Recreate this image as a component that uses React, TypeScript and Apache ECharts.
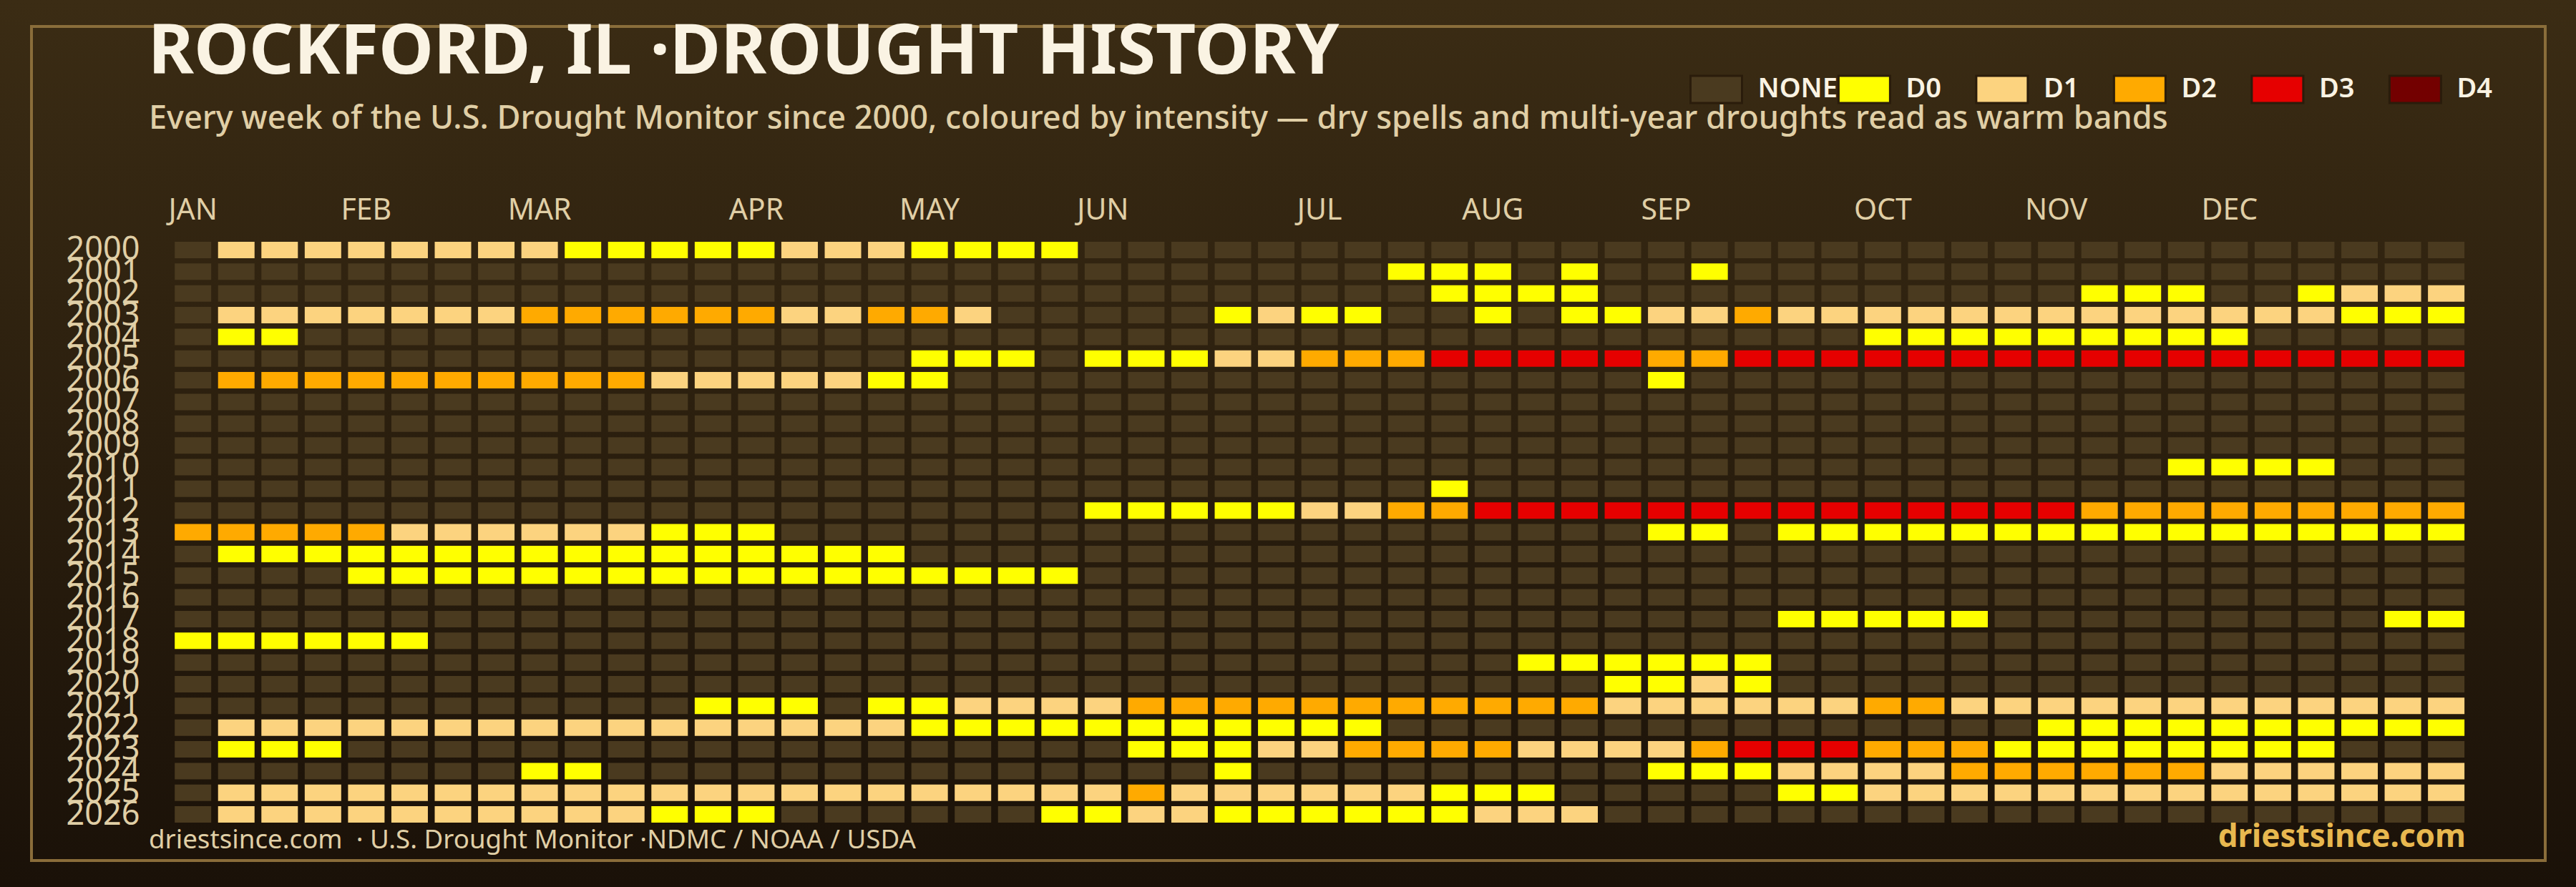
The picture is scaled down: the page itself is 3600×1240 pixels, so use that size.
import { useEffect, useRef } from 'react';
import * as echarts from 'echarts';

const TITLE = 'ROCKFORD, IL ·DROUGHT HISTORY';
const SUBTITLE =
  'Every week of the U.S. Drought Monitor since 2000, coloured by intensity — dry spells and multi-year droughts read as warm bands';
const SOURCE = 'driestsince.com  · U.S. Drought Monitor ·NDMC / NOAA / USDA';
const BRAND = 'driestsince.com';

const FONT = '"Noto Sans", sans-serif';

const months = ['JAN', 'FEB', 'MAR', 'APR', 'MAY', 'JUN', 'JUL', 'AUG', 'SEP', 'OCT', 'NOV', 'DEC'];
const monthStartWeeks = [0, 4, 8, 13, 17, 21, 26, 30, 34, 39, 43, 47];
const weeks = Array.from({ length: 53 }, (_, i) => i);

const levels = ['NONE', 'D0', 'D1', 'D2', 'D3', 'D4'];
const levelColors = ['#4a3a1f', '#ffff00', '#fcd37f', '#ffaa00', '#e60000', '#730000'];

const years = [
  '2000', '2001', '2002', '2003', '2004', '2005', '2006', '2007', '2008',
  '2009', '2010', '2011', '2012', '2013', '2014', '2015', '2016', '2017',
  '2018', '2019', '2020', '2021', '2022', '2023', '2024', '2025', '2026',
];

// one line per year, 53 weeks in groups of ten: "." no drought, digit = D level
const weekLevels = [
  '.111111110 0000111000 0......... .......... .......... ...',
  '.......... .......... ........00 0.0..0.... .......... ...',
  '.......... .......... .........0 000....... ....000..0 111',
  '.111111122 222211221. ....0100.. 0.00112111 1111111111 000',
  '.00....... .......... .......... .........0 00000000.. ...',
  '.......... .......000 .000112223 3333223333 3333333333 333',
  '.222222222 21111100.. .......... ....0..... .......... ...',
  '.......... .......... .......... .......... .......... ...',
  '.......... .......... .......... .......... .......... ...',
  '.......... .......... .......... .......... .......... ...',
  '.......... .......... .......... .......... ......0000 ...',
  '.......... .......... .........0 .......... .......... ...',
  '.......... .......... .000001122 3333333333 3333222222 222',
  '2222211111 1000...... .......... ....00.000 0000000000 000',
  '.000000000 0000000... .......... .......... .......... ...',
  '....000000 0000000000 0......... .......... .......... ...',
  '.......... .......... .......... .......... .......... ...',
  '.......... .......... .......... .......000 00........ .00',
  '000000.... .......... .......... .......... .......... ...',
  '.......... .......... .......... .000000... .......... ...',
  '.......... .......... .......... ...0010... .......... ...',
  '.......... ..000.0011 1122222222 2221111112 2111111111 111',
  '.111111111 1111111000 00000000.. .......... ...0000000 000',
  '.000...... .......... ..00011222 2111123332 2200000000 ...',
  '........00 .......... ....0..... ....000111 1222222111 111',
  '.111111111 1111111111 1121111110 00.....001 1111111111 111',
  '.111111111 1000...... 0011000000 111....... .......... ...',
];

function cellsForLevel(level: number) {
  const key = level === 0 ? '.' : String(level - 1);
  const cells: number[][] = [];
  weekLevels.forEach((line, row) => {
    line.replace(/ /g, '').split('').forEach((ch, week) => {
      if (ch === key) cells.push([week, row]);
    });
  });
  return cells;
}

export default function App() {
  const ref = useRef<HTMLDivElement>(null);

  useEffect(() => {
    if (!ref.current) return;
    const chart = echarts.init(ref.current, undefined, { renderer: 'svg' });

    const legendText = { fontFamily: FONT, fontSize: 38, fontWeight: 600, color: '#faf3e3' };

    chart.setOption({
      animation: false,
      backgroundColor: new echarts.graphic.LinearGradient(0, 0, 0, 1, [
        { offset: 0, color: '#3b2c14' },
        { offset: 1, color: '#1a1108' },
      ]),
      title: [
        { text: TITLE, left: 202, top: 11, textStyle: { fontFamily: FONT, fontSize: 97.5, fontWeight: 700, color: '#faf3e3' } },
        { text: SUBTITLE, left: 203, top: 135, textStyle: { fontFamily: FONT, fontSize: 45.1, fontWeight: 500, color: '#e0cfa6' } },
        { text: SOURCE, left: 203, top: 1148, textStyle: { fontFamily: FONT, fontSize: 36.7, fontWeight: 400, color: '#e0cfa6' } },
        { text: BRAND, right: 149, top: 1140, textStyle: { fontFamily: FONT, fontSize: 44, fontWeight: 700, color: '#e8b84f' } },
      ],
      graphic: [
        {
          type: 'rect',
          z: -1,
          shape: { x: 44, y: 37, width: 3513, height: 1166 },
          style: { fill: 'none', stroke: '#8a6d3a', lineWidth: 4 },
        },
      ],
      legend: {
        left: 2361,
        top: 102,
        padding: 0,
        itemGap: 0,
        itemWidth: 72,
        itemHeight: 38,
        icon: 'rect',
        selectedMode: false,
        itemStyle: { borderColor: '#2a1c0b', borderWidth: 3 },
        data: levels,
        formatter: (name: string) => (name === 'NONE' ? `{none|${name}}` : `{d|${name}}`),
        textStyle: {
          ...legendText,
          rich: {
            none: { ...legendText, padding: [0, 0, 8, 17] },
            // the see-through background makes the legend count the full slot width
            d: { ...legendText, width: 52, padding: [0, 45, 8, 17], backgroundColor: 'rgba(0,0,0,0.001)' },
          },
        },
      },
      grid: { left: 239.4, width: 3209.5, top: 334.3, height: 819.5 },
      xAxis: {
        type: 'category',
        position: 'top',
        data: weeks,
        axisLine: { show: false },
        axisTick: { show: false },
        splitLine: { show: false },
        axisLabel: {
          interval: 0,
          margin: 23,
          fontFamily: FONT,
          fontSize: 41,
          color: '#e0cfa6',
          formatter: (_: string, i: number) => {
            const m = monthStartWeeks.indexOf(i);
            return m >= 0 ? months[m] : '';
          },
        },
      },
      yAxis: {
        type: 'category',
        inverse: true,
        data: years,
        axisLine: { show: false },
        axisTick: { show: false },
        splitLine: { show: false },
        axisLabel: {
          interval: 0,
          margin: 44,
          formatter: (year: string) => `{y|${year}}`,
          rich: {
            y: { fontFamily: FONT, fontSize: 45, color: '#e0cfa6', padding: [0, 0, 7, 0] },
          },
        },
      },
      series: levels.map((name, i) => ({
        name,
        type: 'scatter',
        symbol: 'rect',
        symbolSize: [51, 23],
        itemStyle: { color: levelColors[i], opacity: 1 },
        data: cellsForLevel(i),
      })),
    });

    return () => chart.dispose();
  }, []);

  return <div ref={ref} style={{ position: 'absolute', left: 0, top: 0, width: 3600, height: 1240 }} />;
}
